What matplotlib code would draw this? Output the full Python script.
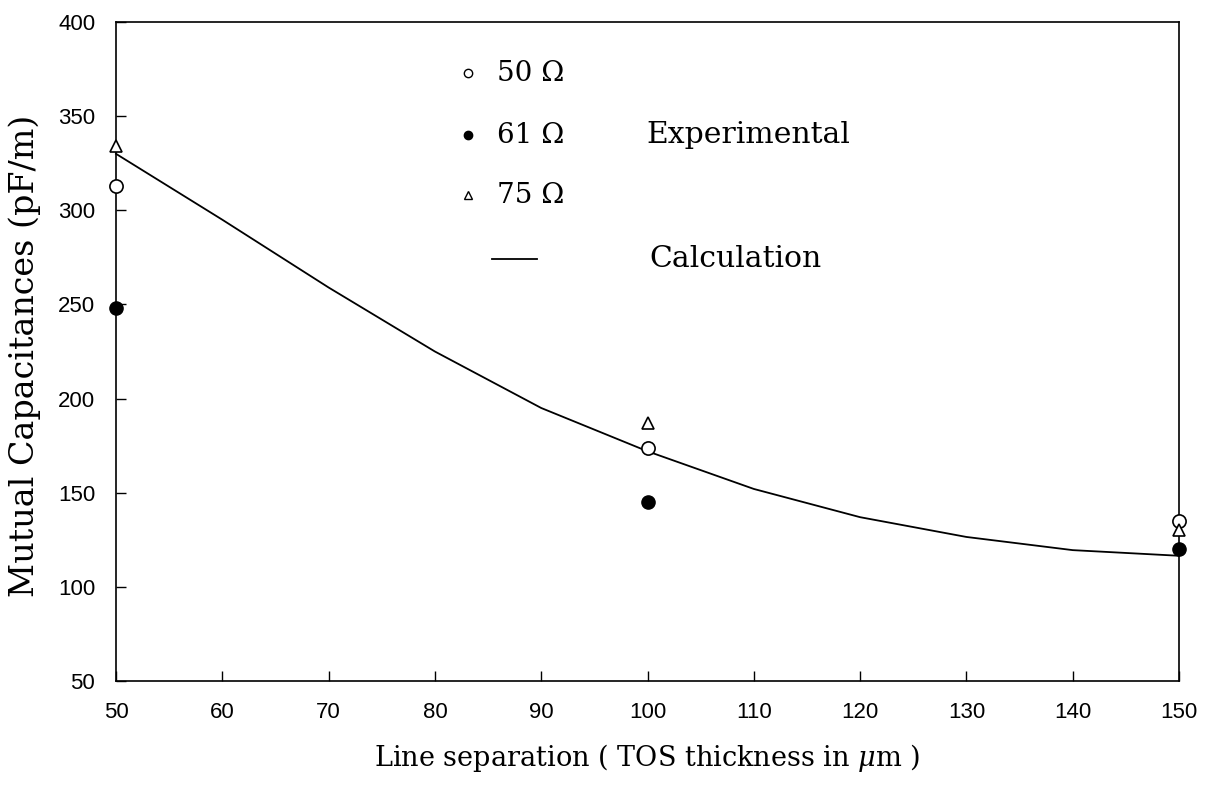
import matplotlib
matplotlib.use("Agg")
import matplotlib.pyplot as plt

# Measured mutual capacitances (pF/m) versus line separation (um)
separation = [50, 100, 150]
cap_50ohm = [313, 174, 135]
cap_61ohm = [248, 145, 120]
cap_75ohm = [334, 187, 130]

# Calculated curve
calc_sep = [50, 60, 70, 80, 90, 100, 110, 120, 130, 140, 150]
calc_cap = [330, 295, 259, 225, 195, 172, 152, 137, 126.5, 119.5, 116.5]

x_ticks = [50, 60, 70, 80, 90, 100, 110, 120, 130, 140, 150]
y_ticks = [50, 100, 150, 200, 250, 300, 350, 400]

plt.rcParams["mathtext.fontset"] = "dejavuserif"
serif = "DejaVu Serif"
sans = "Liberation Sans"

fig = plt.figure(figsize=(12.17, 7.89), dpi=100)
ax = fig.add_axes([0.0953, 0.1369, 0.8735, 0.8352])

ax.plot(calc_sep, calc_cap, color="black", lw=1.3, clip_on=False, zorder=2)
ax.plot(separation, cap_50ohm, "o", ms=9.5, mfc="white", mec="black", mew=1.2,
        clip_on=False, zorder=3)
ax.plot(separation, cap_75ohm, "^", ms=8, mfc="white", mec="black", mew=1.2,
        clip_on=False, zorder=3)
ax.plot(separation, cap_61ohm, "o", ms=9.5, mfc="black", mec="black",
        clip_on=False, zorder=4)

ax.set_xlim(50, 150)
ax.set_ylim(50, 400)
ax.set_xticks(x_ticks)
ax.set_yticks(y_ticks)
ax.tick_params(direction="in", length=7, width=1, top=False, right=False,
               labelsize=16, pad=15)
for lab in ax.get_xticklabels() + ax.get_yticklabels():
    lab.set_fontfamily(sans)
for sp in ax.spines.values():
    sp.set_linewidth(1.2)

ax.set_xlabel(r"Line separation ( TOS thickness in $\mu$m )", fontfamily=serif,
              fontsize=19.5)
ax.xaxis.set_label_coords(0.5, -0.092)
ax.set_ylabel("Mutual Capacitances (pF/m)", fontfamily=serif, fontsize=24)
ax.yaxis.set_label_coords(-0.071, 0.493)

# Key drawn inside the axes (axes-fraction coordinates)
tr = ax.transAxes
kx_marker = 0.331
kx_text = 0.358
rows = [0.922, 0.828, 0.737]
ax.plot([kx_marker], [rows[0]], "o", ms=6, mfc="white", mec="black", mew=1,
        transform=tr)
ax.plot([kx_marker], [rows[1]], "o", ms=6, mfc="black", mec="black",
        transform=tr)
ax.plot([kx_marker], [rows[2]], "^", ms=5.5, mfc="white", mec="black", mew=1,
        transform=tr)
ax.plot([0.354, 0.396], [0.641, 0.641], color="black", lw=1.3, transform=tr)
for y, txt in zip(rows, ["50 Ω", "61 Ω", "75 Ω"]):
    ax.text(kx_text, y, txt, transform=tr, fontfamily=serif, fontsize=20,
            va="center", ha="left")
ax.text(0.499, rows[1], "Experimental", transform=tr, fontfamily=serif,
        fontsize=21.5, va="center", ha="left")
ax.text(0.502, 0.641, "Calculation", transform=tr, fontfamily=serif,
        fontsize=21.5, va="center", ha="left")

fig.savefig("out.png", dpi=100)
